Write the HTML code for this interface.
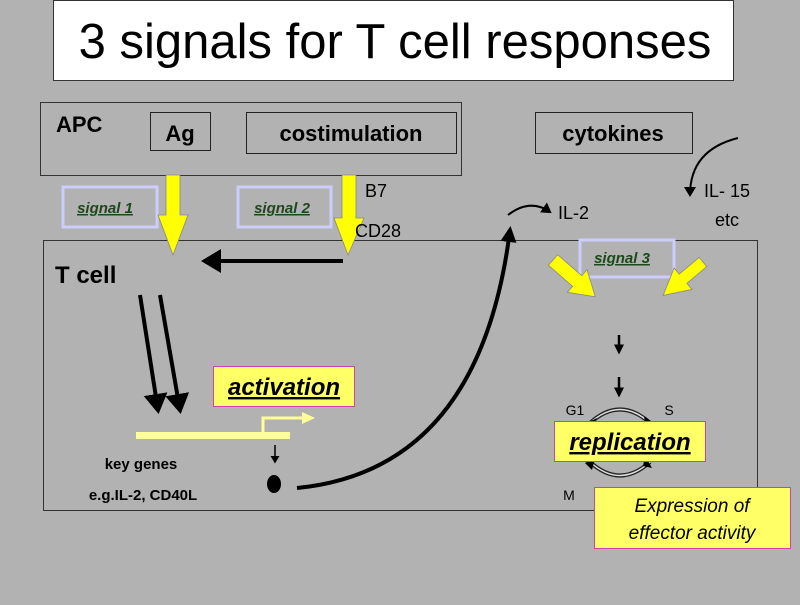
<!DOCTYPE html>
<html><head><style>
body{margin:0;width:800px;height:600px;background:#b2b2b2;overflow:hidden;font-family:"Liberation Sans",sans-serif}
</style></head><body>
<svg width="800" height="600" xmlns="http://www.w3.org/2000/svg" font-family="Liberation Sans, sans-serif">
<defs>
<marker id="ah" markerWidth="6" markerHeight="6" refX="4" refY="3" orient="auto" markerUnits="strokeWidth"><path d="M0,0 L5,3 L0,6z" fill="#000"/></marker>
<marker id="ahs" markerWidth="4" markerHeight="4" refX="3" refY="2" orient="auto" markerUnits="strokeWidth"><path d="M0,0 L4,2 L0,4z" fill="#000"/></marker>
</defs>
<rect x="53.5" y="0.5" width="680" height="80" fill="#fff" stroke="#333"/>
<text x="395" y="58" font-size="49" text-anchor="middle">3 signals for T cell responses</text>
<rect x="40.5" y="102.5" width="421" height="73" fill="none" stroke="#333"/>
<text x="56" y="132" font-size="22" font-weight="bold">APC</text>
<rect x="150.5" y="112.5" width="60" height="38" fill="#b2b2b2" stroke="#222"/>
<text x="180" y="141" font-size="22" font-weight="bold" text-anchor="middle">Ag</text>
<rect x="246.5" y="112.5" width="210" height="41" fill="#b2b2b2" stroke="#222"/>
<text x="351" y="141" font-size="22" font-weight="bold" text-anchor="middle">costimulation</text>
<rect x="535.5" y="112.5" width="157" height="41" fill="#b2b2b2" stroke="#222"/>
<text x="613" y="141" font-size="22" font-weight="bold" text-anchor="middle">cytokines</text>
<rect x="43.5" y="240.5" width="714" height="270" fill="none" stroke="#333"/>
<text x="55" y="283" font-size="24" font-weight="bold">T cell</text>
<rect x="63" y="187" width="94" height="40" fill="none" stroke="#ccccff" stroke-width="3"/>
<text x="105" y="213" font-size="15" font-weight="bold" font-style="italic" fill="#1a4a1a" text-decoration="underline" text-anchor="middle">signal 1</text>
<rect x="238" y="187" width="93" height="40" fill="none" stroke="#ccccff" stroke-width="3"/>
<text x="282" y="213" font-size="15" font-weight="bold" font-style="italic" fill="#1a4a1a" text-decoration="underline" text-anchor="middle">signal 2</text>
<rect x="580" y="240" width="94" height="37" fill="none" stroke="#ccccff" stroke-width="3"/>
<text x="622" y="263" font-size="15" font-weight="bold" font-style="italic" fill="#1a4a1a" text-decoration="underline" text-anchor="middle">signal 3</text>
<path d="M166,175 H180 V215 H188 L173,255 L158,215 H166z" fill="#ffff00" stroke="#888" stroke-width="0.8"/>
<path d="M342,175 H356 V218 H364 L348,255 L334,218 H342z" fill="#ffff00" stroke="#888" stroke-width="0.8"/>
<text x="365" y="197" font-size="18">B7</text>
<text x="355" y="237" font-size="18">CD28</text>
<line x1="343" y1="261" x2="205" y2="261" stroke="#000" stroke-width="4" marker-end="url(#ah)"/>
<line x1="140" y1="295" x2="158" y2="410" stroke="#000" stroke-width="4" marker-end="url(#ah)"/>
<line x1="160" y1="295" x2="180" y2="410" stroke="#000" stroke-width="4" marker-end="url(#ah)"/>
<rect x="136" y="432" width="154" height="7" fill="#ffff99"/>
<path d="M263,432 V418 H302" fill="none" stroke="#ffff99" stroke-width="3"/>
<path d="M302,412 L315,418 L302,424z" fill="#ffff99"/>
<rect x="213.5" y="366.5" width="141" height="40" fill="#ffff66" stroke="#cc44aa"/>
<text x="284" y="395" font-size="24" font-weight="bold" font-style="italic" text-decoration="underline" text-anchor="middle">activation</text>
<text x="141" y="469" font-size="15" font-weight="bold" text-anchor="middle">key genes</text>
<text x="143" y="500" font-size="15" font-weight="bold" text-anchor="middle">e.g.IL-2, CD40L</text>
<line x1="275" y1="445" x2="275" y2="462" stroke="#000" stroke-width="1.5" marker-end="url(#ah)"/>
<ellipse cx="274" cy="484" rx="7" ry="9" fill="#000"/>
<path d="M297,488 Q480,470 510,230" fill="none" stroke="#000" stroke-width="4" marker-end="url(#ahs)"/>
<path d="M508,215 Q530,198 550,212" fill="none" stroke="#000" stroke-width="2" marker-end="url(#ah)"/>
<text x="558" y="219" font-size="18">IL-2</text>
<path d="M738,138 Q690,150 690,195" fill="none" stroke="#000" stroke-width="2" marker-end="url(#ah)"/>
<text x="727" y="197" font-size="18" text-anchor="middle">IL- 15</text>
<text x="727" y="226" font-size="18" text-anchor="middle">etc</text>
<g transform="translate(553,260) rotate(41)">
<path d="M0,-7 H32 V-15 L56,0 L32,15 V7 H0z" fill="#ffff00" stroke="#888" stroke-width="0.8"/>
</g>
<g transform="translate(703,262) rotate(140)">
<path d="M0,-6 H26 V-14 L52,0 L26,14 V6 H0z" fill="#ffff00" stroke="#888" stroke-width="0.8"/>
</g>
<line x1="619" y1="335" x2="619" y2="352" stroke="#000" stroke-width="2.5" marker-end="url(#ahs)"/>
<line x1="619" y1="377" x2="619" y2="395" stroke="#000" stroke-width="2.5" marker-end="url(#ahs)"/>
<g fill="none">
<path d="M590,423 Q620,396 650,423" stroke="#222" stroke-width="4"/>
<path d="M590,423 Q620,396 650,423" stroke="#ddd" stroke-width="1.5"/>
<path d="M590,462 Q620,489 650,462" stroke="#222" stroke-width="4"/>
<path d="M590,462 Q620,489 650,462" stroke="#ddd" stroke-width="1.5"/>
</g>
<path d="M583,425 L597,418 L592,428z" fill="#000"/>
<path d="M644,416 L655,424 L646,428z" fill="#000"/>
<path d="M585,463 L595,458 L592,470z" fill="#000"/>
<path d="M645,456 L652,468 L643,466z" fill="#000"/>
<text x="575" y="415" font-size="14" text-anchor="middle">G1</text>
<text x="669" y="415" font-size="14" text-anchor="middle">S</text>
<text x="569" y="500" font-size="14" text-anchor="middle">M</text>
<rect x="554.5" y="421.5" width="151" height="40" fill="#ffff66" stroke="#cc44aa"/>
<text x="630" y="450" font-size="24" font-weight="bold" font-style="italic" text-decoration="underline" text-anchor="middle">replication</text>
<rect x="594.5" y="487.5" width="196" height="61" fill="#ffff66" stroke="#cc44aa"/>
<text x="692" y="512" font-size="19" font-style="italic" text-anchor="middle">Expression of</text>
<text x="692" y="539" font-size="19" font-style="italic" text-anchor="middle">effector activity</text>
</svg>
</body></html>
